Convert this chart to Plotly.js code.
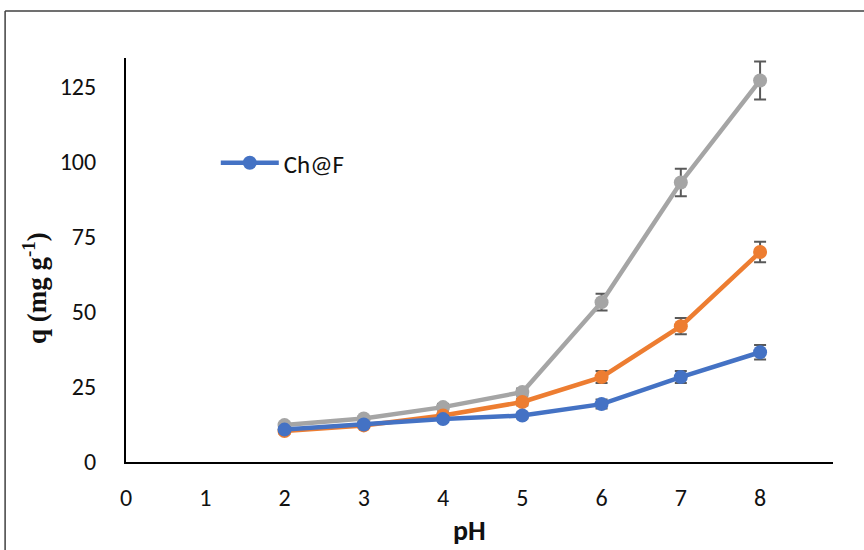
<!DOCTYPE html>
<html><head><meta charset="utf-8">
<script src="https://cdn.plot.ly/plotly-3.0.1.min.js"></script>
<style>html,body{margin:0;padding:0;background:#fff}#chart{width:864px;height:550px}</style>
</head><body><div id="chart"></div>
<script>
const pH = [2, 3, 4, 5, 6, 7, 8];
const chF = [10.8, 12.5, 14.3, 15.5, 19.3, 28.3, 36.6];
const chF_err = [0.8, 0.8, 1.0, 1.0, 1.5, 2.0, 2.4];
const series2 = [10.3, 12.2, 15.5, 20.0, 28.3, 45.3, 70.0];
const series2_err = [0.8, 0.8, 1.0, 1.2, 2.0, 2.7, 3.4];
const series3 = [12.3, 14.5, 18.3, 23.3, 53.3, 93.2, 127.2];
const series3_err = [0.8, 0.8, 1.0, 1.2, 2.8, 4.6, 6.3];
const legendName = 'Ch@F';
const xTicks = [0, 1, 2, 3, 4, 5, 6, 7, 8];
const yTicks = [0, 25, 50, 75, 100, 125];

function tr(y, err, color, name, show) {
  return {
    x: pH, y: y, type: 'scatter', mode: 'lines+markers', name: name, showlegend: show,
    line: {color: color, width: 4.5},
    marker: {color: color, size: 14},
    error_y: {type: 'data', array: err, visible: true, color: '#595959', thickness: 2, width: 6}
  };
}
const data = [
  tr(series3, series3_err, '#A5A5A5', 'Series 3', false),
  tr(series2, series2_err, '#ED7D31', 'Series 2', false),
  tr(chF, chF_err, '#4472C4', legendName, true)
];
const sans = 'Carlito, Open Sans, Liberation Sans, sans-serif';
const layout = {
  width: 864, height: 550,
  margin: {l: 126, r: 31, t: 58, b: 88},
  paper_bgcolor: '#fff', plot_bgcolor: '#fff',
  font: {family: sans, size: 24, color: '#111'},
  showlegend: true,
  legend: {x: 0.127, y: 0.74, xanchor: 'left', yanchor: 'middle', bgcolor: 'rgba(0,0,0,0)',
           itemwidth: 58, font: {family: sans, size: 25, color: '#111'}},
  xaxis: {
    range: [0, 8.92], tickvals: xTicks, showgrid: false, zeroline: false,
    showline: true, linecolor: '#000', linewidth: 2, ticks: '', ticklabelstandoff: 13
  },
  yaxis: {
    range: [0, 134.7], tickvals: yTicks, showgrid: false, zeroline: false,
    showline: true, linecolor: '#000', linewidth: 2, ticks: '', ticklabelstandoff: 23
  },
  annotations: [{
    xref: 'paper', yref: 'paper', x: -0.129, y: 0.43, xanchor: 'center', yanchor: 'middle',
    textangle: -90, showarrow: false,
    text: '<b>q (mg g<sup>-1</sup>)</b>',
    font: {family: 'Liberation Serif, Times New Roman, serif', size: 27, color: '#111'}
  }, {
    xref: 'paper', yref: 'paper', x: (469 - 126) / 707, y: -(530 - 462) / 404, xanchor: 'center', yanchor: 'middle',
    showarrow: false, text: '<b>pH</b>',
    font: {family: sans, size: 28, color: '#111'}
  }],
  shapes: [
    {type: 'line', xref: 'paper', yref: 'paper', x0: -0.171, x1: -0.171, y0: 1.1163, y1: -0.23, line: {color: '#404040', width: 1.5}},
    {type: 'line', xref: 'paper', yref: 'paper', x0: -0.171, x1: 1.1, y0: 1.1163, y1: 1.1163, line: {color: '#404040', width: 1.5}}
  ]
};
Plotly.newPlot('chart', data, layout, {displayModeBar: false, staticPlot: true});
</script></body></html>
